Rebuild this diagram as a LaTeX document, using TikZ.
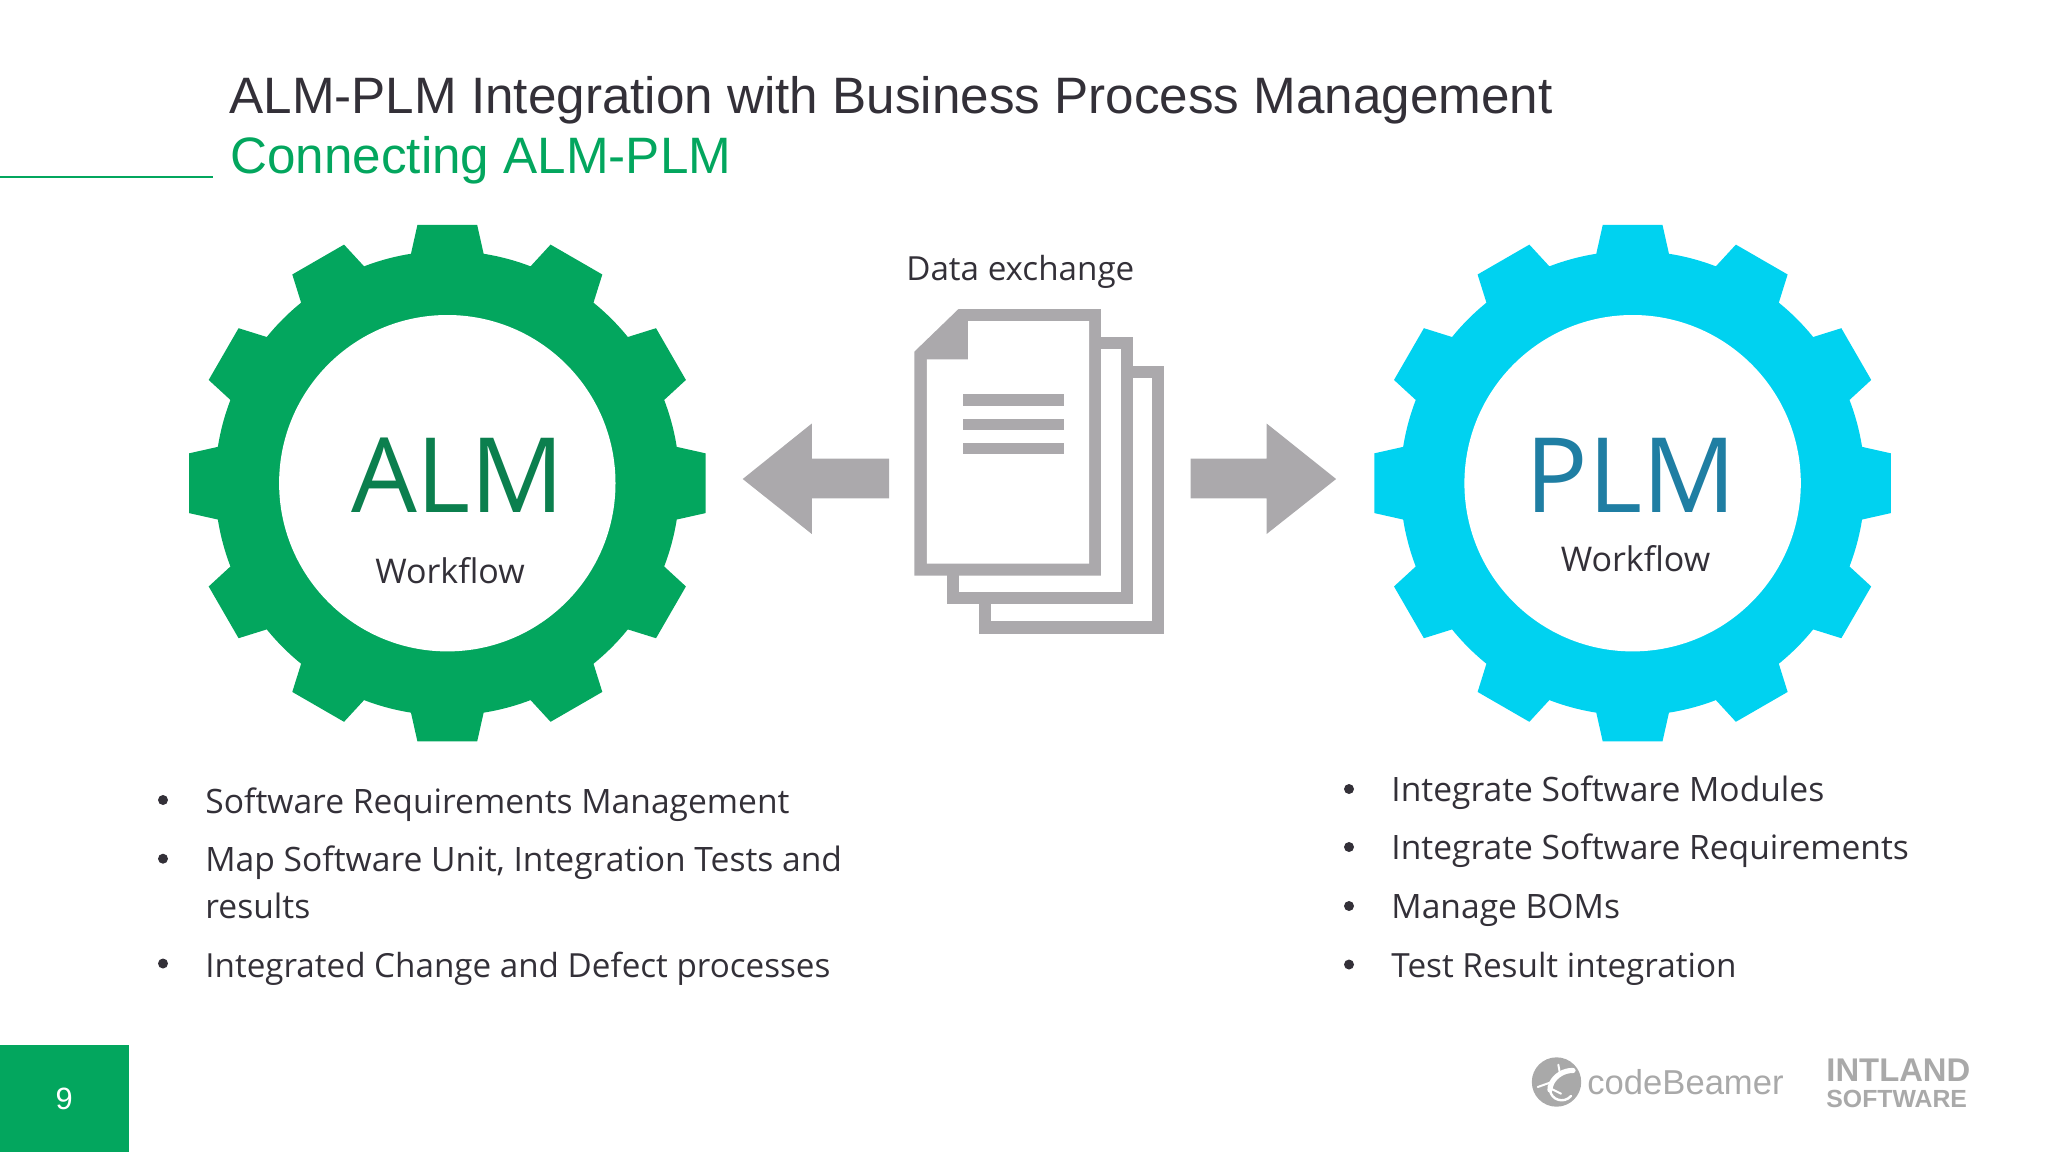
\documentclass[tikz,border=0pt]{standalone}
\usepackage{fontspec}
\setmainfont{Open Sans}
\newfontfamily\titlefont{Liberation Sans}
\definecolor{almgreen}{HTML}{03A65E}
\definecolor{almdark}{HTML}{0B7F4E}
\definecolor{plmcyan}{HTML}{00D2F0}
\definecolor{plmdark}{HTML}{1F7EA3}
\definecolor{docgray}{HTML}{ABA9AC}
\definecolor{logogray}{HTML}{A9A9A9}
\definecolor{inkgray}{HTML}{333038}
\tikzset{
    txt/.style={inner sep=0pt,anchor=base west,text=inkgray,font=\fontsize{16.8}{20}\selectfont},
    dot/.style={circle,inner sep=0pt,minimum size=5pt,fill=inkgray},
    headline/.style={inner sep=0pt,anchor=base west,font=\titlefont\fontsize{25.6}{30}\selectfont},
    bigname/.style={inner sep=0pt,anchor=base,font=\fontsize{52}{60}\selectfont},
    logotxt/.style={inner sep=0pt,anchor=base west,text=logogray,font=\titlefont\fontsize{15}{18}\selectfont},
    lizard/.style={white,line cap=round,line width=#1},
    pics/gearwheel/.style={code={
        \fill[pic actions] (-9:232.3)
            \foreach \a in {0,30,...,330} {
                -- ({\a-9}:232.3) -- ({\a-6.6}:260) -- ({\a+6.6}:260) -- ({\a+9}:232.3)
                arc[start angle=\a+9,end angle=\a+21,radius=232.3]
            } -- cycle;
        \fill[white] (0,0) circle (168.2);
    }},
}
\begin{document}
\begin{tikzpicture}[x=.5pt,y=-.5pt]
        \useasboundingbox (0,0) rectangle (2048,1152);
        % title
        \node[headline,text=inkgray] (title) at (229,113) {ALM-PLM Integration with Business Process Management};
        \node[headline,text=almgreen] (subtitle) at (230,173) {Connecting ALM-PLM};
        \coordinate (rulea) at (0,176.5);
        \coordinate (ruleb) at (213,176.5);
        \draw[almgreen,line width=1pt] (rulea) -- (ruleb);
        % gears
        \pic[fill=almgreen] (almgear) at (447.3,483.2) {gearwheel};
        \pic[fill=plmcyan] (plmgear) at (1632.6,483.2) {gearwheel};
        \node[bigname,text=almdark] (alm) at (458,512.5) {ALM};
        \node[txt,anchor=base,font=\fontsize{17}{20}\selectfont] (almflow) at (450,583) {Workflow};
        \node[bigname,text=plmdark] (plm) at (1631,512.5) {PLM};
        \node[txt,anchor=base,font=\fontsize{17}{20}\selectfont] (plmflow) at (1635.5,571) {Workflow};
        % documents
        \node[txt,anchor=base,font=\fontsize{16.6}{20}\selectfont] (data) at (1020.3,280) {Data exchange};
        \fill[docgray] (978.7,366) rectangle (1164.2,634);
        \fill[white] (990.6,378) rectangle (1151.9,621);
        \fill[docgray] (947,337.3) rectangle (1132.5,604.3);
        \fill[white] (958.9,349) rectangle (1120.7,592.3);
        \fill[docgray] (958.5,309) -- (1100.9,309) -- (1100.9,575.7) -- (914.3,575.7) -- (914.3,351.7) -- cycle;
        \fill[white] (968,321) -- (1089,321) -- (1089,563.7) -- (926.9,563.7) -- (926.9,359.3) -- (968,359.3) -- cycle;
        \fill[docgray] (963.3,394.3) rectangle (1064.1,405.7);
        \fill[docgray] (963.3,419) rectangle (1064.1,429.7);
        \fill[docgray] (963.3,443) rectangle (1064.1,454);
        % arrows
        \fill[docgray] (742.7,479) -- (811.8,423.5) -- (811.8,458.7) -- (889,458.7) -- (889,498.3) -- (811.8,498.3) -- (811.8,534) -- cycle;
        \fill[docgray] (1336.1,479) -- (1266.6,423.5) -- (1266.6,458.7) -- (1190.6,458.7) -- (1190.6,498.3) -- (1266.6,498.3) -- (1266.6,534) -- cycle;
        % left list
        \node[txt] (la) at (205,813) {Software Requirements Management};
        \node[txt] (lb) at (205,871) {Map Software Unit, Integration Tests and};
        \node[txt] (lc) at (205,918) {results};
        \node[txt,font=\fontsize{16.6}{20}\selectfont] (ld) at (205,977) {Integrated Change and Defect processes};
        \node[dot] (dota) at (163,800) {};
        \node[dot] (dotb) at (163,858.7) {};
        \node[dot] (dotc) at (163,963.5) {};
        % right list
        \node[txt] (ra) at (1391,801) {Integrate Software Modules};
        \node[txt] (rb) at (1391,859) {Integrate Software Requirements};
        \node[txt] (rc) at (1391,918) {Manage BOMs};
        \node[txt,font=\fontsize{16.65}{20}\selectfont] (rd) at (1391,977) {Test Result integration};
        \node[dot] (dotd) at (1349,789) {};
        \node[dot] (dote) at (1349,847) {};
        \node[dot] (dotf) at (1349,906) {};
        \node[dot] (dotg) at (1349,964.5) {};
        % footer
        \fill[almgreen] (0,1045) rectangle (129,1152);
        \node[inner sep=0pt,text=white,font=\titlefont\fontsize{15.4}{18}\selectfont] (page) at (64.3,1099) {9};
        \fill[logogray] (1556.5,1082) circle (24.7);
        \draw[lizard=2.6pt] (1573,1070.5) .. controls (1564,1070) and (1555,1076) .. (1551.7,1083) .. controls (1550,1086) and (1550,1088) .. (1550,1090);
        \draw[lizard=1.2pt] (1550,1090) .. controls (1551,1100) and (1564,1104) .. (1571,1096);
        \draw[lizard=1pt] (1560,1073.7) -- (1558.3,1064.7);
        \draw[lizard=1pt] (1551.7,1082) -- (1537.7,1087);
        \draw[lizard=1pt] (1551,1088.7) -- (1561,1093.7);
        \node[logotxt,font=\titlefont\fontsize{17.3}{20}\selectfont] (codebeamer) at (1587,1094) {codeBeamer};
        \node[logotxt,font=\titlefont\bfseries\fontsize{16.4}{20}\selectfont] (intland) at (1826,1081) {INTLAND};
        \node[logotxt,font=\titlefont\bfseries\fontsize{12.4}{15}\selectfont] (software) at (1826,1107) {SOFTWARE};
\end{tikzpicture}
\end{document}
